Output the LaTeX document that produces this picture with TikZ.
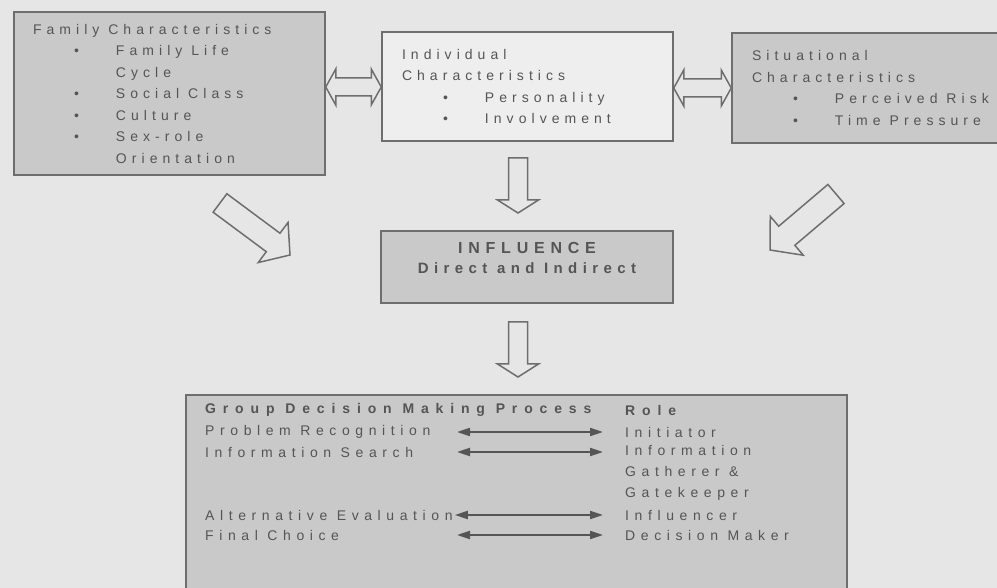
\documentclass[tikz,border=0pt]{standalone}
\usepackage{fontspec}
\setmainfont{Liberation Sans}[LetterSpace=36]
\newfontfamily\grpfont{Liberation Sans}[LetterSpace=40]
\newfontfamily\grphead{Liberation Sans}[LetterSpace=49]
\usetikzlibrary{calc}
\usetikzlibrary{arrows.meta}

\definecolor{pagebg}{HTML}{E6E6E6}
\definecolor{boxgrey}{HTML}{C9C9C9}
\definecolor{boxlight}{HTML}{EEEEEE}
\definecolor{inkgrey}{HTML}{555555}
\definecolor{edgegrey}{HTML}{6E6E6E}
\definecolor{arrowgrey}{HTML}{555555}

% bullet item: indent, bullet, text
\newcommand{\itm}{\hspace*{41pt}\makebox[42pt][l]{\textbullet}}
\newcommand{\tab}{\hspace*{83pt}}

% hollow block arrow: start, tip, half shaft, half head, head length
\newcommand{\fatarrow}[5]{%
  \coordinate (fah) at ($(#2)!#5!(#1)$);
  \draw[blockarrow] ($(#1)!#3!90:(#2)$) -- ($(fah)!#3!90:(#2)$) -- ($(fah)!#4!90:(#2)$) -- (#2)
    -- ($(fah)!#4!-90:(#2)$) -- ($(fah)!#3!-90:(#2)$) -- ($(#1)!#3!-90:(#2)$) -- cycle;
}
% hollow double block arrow: tip, tip, half shaft, half head, head length
\newcommand{\dblarrow}[5]{%
  \coordinate (dha) at ($(#1)!#5!(#2)$);
  \coordinate (dhb) at ($(#2)!#5!(#1)$);
  \draw[blockarrow] (#1) -- ($(dha)!#4!90:(#2)$) -- ($(dha)!#3!90:(#2)$) -- ($(dhb)!#3!90:(#2)$)
    -- ($(dhb)!#4!90:(#2)$) -- (#2) -- ($(dhb)!#4!-90:(#2)$) -- ($(dhb)!#3!-90:(#2)$)
    -- ($(dha)!#3!-90:(#2)$) -- ($(dha)!#4!-90:(#2)$) -- cycle;
}

\begin{document}
\begin{tikzpicture}[x=1pt, y=-1pt,
    box/.style={draw=edgegrey, line width=1.5pt, rectangle, inner ysep=0pt},
    boxtext/.style={align=left, text=inkgrey, font=\fontsize{14}{21.5}\selectfont},
    blockarrow/.style={draw=edgegrey, line width=1.5pt, fill=pagebg, line join=miter},
    rolearrow/.style={{Triangle[length=13pt,width=8pt]}-{Triangle[length=13pt,width=8pt]}, line width=2pt, draw=arrowgrey},
    txt/.style={anchor=west, inner sep=0pt, text=inkgrey, font=\fontsize{14}{21}\selectfont\grpfont}]
        \useasboundingbox (0,0) rectangle (997,588);
        \clip (0,0) rectangle (997,588);
        \fill[pagebg] (0,0) rectangle (997,588);

        % top row
        \node[box, boxtext, fill=boxgrey, inner xsep=19pt, minimum width=311pt, minimum height=163pt] (fam) at (169.5,93.5)
            {\makebox[273pt][l]{Family Characteristics}\\ \itm Family Life\\ \tab Cycle\\ \itm Social Class\\ \itm Culture\\ \itm Sex-role\\ \tab Orientation};
        \node[box, boxtext, fill=boxlight, inner xsep=20pt, minimum width=291pt, minimum height=109pt] (ind) at (527.5,86.5)
            {\makebox[251pt][l]{Individual}\\ Characteristics\\ \itm Personality\\ \itm Involvement};
        \node[box, boxtext, fill=boxgrey, inner xsep=20pt, minimum width=330pt, minimum height=110pt] (sit) at (897,88)
            {\makebox[290pt][l]{Situational}\\ Characteristics\\ \itm Perceived Risk\\ \itm Time Pressure};

        \coordinate (dy1) at (0,87);
        \coordinate (dy2) at (0,88);
        \dblarrow{fam.east |- dy1}{ind.west |- dy1}{9pt}{18pt}{10pt}
        \dblarrow{ind.east |- dy2}{sit.west |- dy2}{9pt}{18pt}{10pt}

        % into influence
        \coordinate (d1a) at (518,158);
        \coordinate (d1b) at (518,213);
        \fatarrow{d1a}{d1b}{9.5pt}{20.5pt}{13pt}
        \coordinate (la) at (220,203);
        \coordinate (lb) at (290,255);
        \fatarrow{la}{lb}{11.5pt}{25pt}{21pt}
        \coordinate (ra) at (836,194);
        \coordinate (rb) at (770,250);
        \fatarrow{ra}{rb}{12.5pt}{25.5pt}{22pt}

        \node[box, fill=boxgrey, minimum width=292pt, minimum height=72pt] (infl) at (527,267) {};
        \node[align=center, text=inkgrey, font=\fontsize{15}{20}\selectfont\bfseries] (infltxt) at (527,258) {\fontsize{16}{20}\selectfont INFLUENCE\\ Direct and Indirect};

        \coordinate (d2a) at (518,322);
        \coordinate (d2b) at (518,377);
        \fatarrow{d2a}{d2b}{9.5pt}{20.5pt}{13pt}

        % decision making process and roles
        \node[box, fill=boxgrey, minimum width=661pt, minimum height=240pt] (grp) at (516.5,515) {};
        \node[txt, font=\fontsize{14}{21}\selectfont\grphead\bfseries] (gdm) at (205,410) {Group Decision Making Process};
        \node[txt, font=\fontsize{14}{21}\selectfont\grphead\bfseries] (role) at (625,410) {Role};
        \node[txt] (prob) at (205,432) {Problem Recognition};
        \node[txt] (srch) at (205,452) {Information Search};
        \node[txt] (alt) at (205,515) {Alternative Evaluation};
        \node[txt] (fin) at (205,535) {Final Choice};
        \node[txt] (init) at (625,432) {Initiator};
        \node[txt, align=left] (gath) at (625,473) {Information\\ Gatherer \&\\ Gatekeeper};
        \node[txt] (infr) at (625,515) {Influencer};
        \node[txt] (dmkr) at (625,535) {Decision Maker};

        \coordinate (lt) at (457,0);
        \coordinate (rt) at (603,0);
        \draw[rolearrow] (lt |- prob) -- (rt |- init);
        \draw[rolearrow] (lt |- srch) -- (rt |- srch);
        \draw[rolearrow] ([xshift=2pt]alt.east) -- (rt |- infr);
        \draw[rolearrow] (lt |- fin) -- (rt |- dmkr);
\end{tikzpicture}
\end{document}
